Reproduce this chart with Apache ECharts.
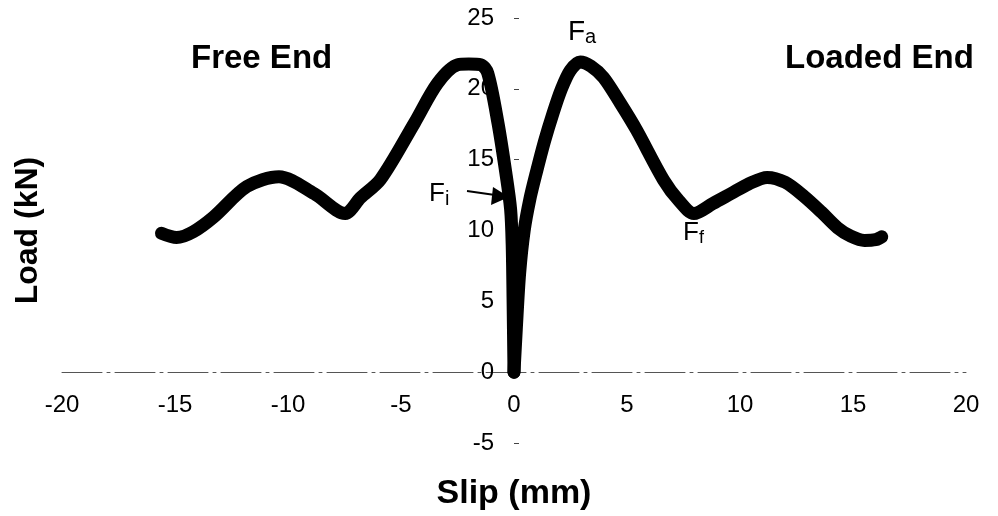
<!DOCTYPE html>
<html>
<head>
<meta charset="utf-8">
<script src="https://cdn.jsdelivr.net/npm/echarts@6/dist/echarts.min.js"></script>
<style>
  html, body { margin: 0; padding: 0; background: #fff; }
  #chart { width: 998px; height: 516px; }
</style>
</head>
<body>
<div id="chart"></div>
<script>
// free end branch (negative slip)
const freeSlip = [0, -0.04, -0.08, -0.15, -0.36, -0.71, -1.16, -1.47, -2.0, -2.49, -3.38, -4.4, -5.91, -6.8, -7.47, -8.84, -10.4, -11.82, -13.29, -14.2, -14.93, -15.6];
const freeLoad = [0, 5, 9, 11.5, 14.05, 17.6, 21.1, 21.7, 21.75, 21.7, 20.4, 17.6, 13.6, 12.3, 11.2, 12.6, 13.8, 13.1, 10.95, 9.9, 9.5, 9.8];
// loaded end branch (positive slip)
const loadSlip = [0, 0.1, 0.25, 0.45, 0.7, 0.98, 1.35, 1.73, 2.1, 2.49, 2.93, 3.4, 3.96, 4.7, 5.42, 6.62, 7.3, 7.96, 8.8, 9.6, 10.4, 11.2, 12.0, 12.84, 13.6, 14.31, 14.9, 15.51, 16.0, 16.27];
const loadLoad = [0, 3, 7, 10, 12.2, 14.05, 16.3, 18.3, 20.0, 21.3, 21.9, 21.6, 20.8, 19.0, 17.1, 13.56, 12.1, 11.2, 11.9, 12.6, 13.3, 13.75, 13.4, 12.4, 11.3, 10.2, 9.6, 9.3, 9.35, 9.55];

const slipTicks = { min: -20, max: 20, step: 5 };
const loadTicks = { min: -5, max: 25, step: 5 };

const pairs = (xs, ys) => xs.map((x, i) => [x, ys[i]]);

const font = "'Liberation Sans', Arial, sans-serif";

const lineSeries = (name, data) => ({
  name: name,
  type: "line",
  data: data,
  smooth: 0.3,
  symbol: "none",
  lineStyle: { color: "#000", width: 13, cap: "round", join: "round" },
});

// axes cross at 0: shift them from the grid edge instead of onZero,
// so labels and names move with the lines
const gridW = 904, gridH = 425;
const yShift = -gridW * (0 - slipTicks.min) / (slipTicks.max - slipTicks.min);
const xShift = -gridH * (0 - loadTicks.min) / (loadTicks.max - loadTicks.min);

var myChart = echarts.init(document.getElementById("chart"));
var option = {
  backgroundColor: "#fff",
  animation: false,
  grid: { left: 62, top: 18, width: gridW, height: gridH, containLabel: false, outerBoundsMode: "none" },
  xAxis: {
    type: "value",
    min: slipTicks.min,
    max: slipTicks.max,
    interval: slipTicks.step,
    offset: xShift,
    name: "Slip (mm)",
    nameLocation: "middle",
    nameGap: 104,
    nameTextStyle: { fontFamily: font, fontWeight: "bold", fontSize: 34, color: "#000" },
    axisLine: { onZero: false, lineStyle: { color: "#555", width: 1, type: [40, 5, 3, 5] } },
    axisTick: { show: false },
    splitLine: { show: false },
    axisLabel: { fontFamily: font, fontSize: 24, color: "#000", margin: 21 },
  },
  yAxis: {
    type: "value",
    min: loadTicks.min,
    max: loadTicks.max,
    interval: loadTicks.step,
    offset: yShift,
    name: "Load (kN)",
    nameLocation: "middle",
    nameRotate: 90,
    nameGap: 470,
    nameTextStyle: { fontFamily: font, fontWeight: "bold", fontSize: 32, color: "#000" },
    axisLine: { onZero: false, show: false },
    axisTick: { show: true, inside: true, length: 5, lineStyle: { color: "#444" } },
    splitLine: { show: false },
    axisLabel: { fontFamily: font, fontSize: 24, color: "#000", margin: 20 },
  },
  series: [
    lineSeries("Free end", pairs(freeSlip, freeLoad)),
    lineSeries("Loaded end", pairs(loadSlip, loadLoad)),
  ],
  graphic: [
    {
      type: "text", left: 191, top: 42,
      style: { text: "Free End", fontFamily: font, fontWeight: "bold", fontSize: 33, fill: "#000" },
    },
    {
      type: "text", left: 785, top: 42,
      style: { text: "Loaded End", fontFamily: font, fontWeight: "bold", fontSize: 33, fill: "#000" },
    },
    {
      type: "text", left: 568, top: 18,
      style: {
        text: "{f|F}{s|a}", fill: "#000",
        rich: { f: { fontFamily: font, fontSize: 28 }, s: { fontFamily: font, fontSize: 20, padding: [10, 0, 0, 0] } },
      },
    },
    {
      type: "text", left: 429, top: 181,
      style: {
        text: "{f|F}{s|i}", fill: "#000",
        rich: { f: { fontFamily: font, fontSize: 26 }, s: { fontFamily: font, fontSize: 20, padding: [10, 0, 0, 0] } },
      },
    },
    {
      type: "text", left: 683, top: 220,
      style: {
        text: "{f|F}{s|f}", fill: "#000",
        rich: { f: { fontFamily: font, fontSize: 26 }, s: { fontFamily: font, fontSize: 18, padding: [10, 0, 0, 0] } },
      },
    },
    {
      type: "line",
      shape: { x1: 467, y1: 191, x2: 495, y2: 195 },
      style: { stroke: "#000", lineWidth: 2 },
    },
    {
      type: "polygon",
      shape: { points: [[509, 197], [493, 187], [491, 205]] },
      style: { fill: "#000" },
    },
  ],
};

myChart.setOption(option);
</script>
</body>
</html>
